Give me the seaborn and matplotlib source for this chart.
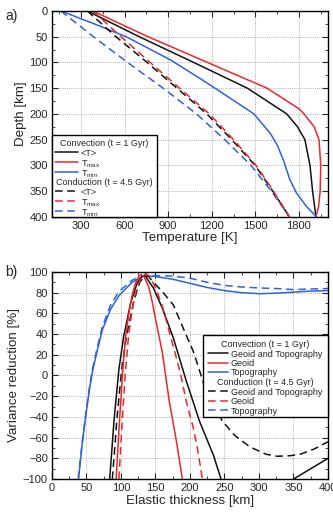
import numpy as np
import pandas as pd
import matplotlib
matplotlib.use("Agg")
import matplotlib.pyplot as plt
from matplotlib.lines import Line2D
from matplotlib.patches import Rectangle
from matplotlib.ticker import MultipleLocator
import seaborn as sns

# ---- panel a: temperature profiles (depth in km, temperature in K)
conv_mean_depth = [0, 50, 100, 150, 200, 225, 250, 300, 350, 400]
conv_mean_temp = [343, 700, 1075, 1445, 1716, 1790, 1841, 1876, 1894, 1917]
conv_max_depth = [0, 50, 100, 150, 190, 200, 225, 250, 300, 350, 380, 400]
conv_max_temp = [380, 760, 1170, 1580, 1800, 1835, 1905, 1938, 1950, 1946, 1935, 1917]
conv_min_depth = [0, 25, 50, 95, 134, 150, 179, 200, 237, 260, 289, 328, 354, 380, 400]
conv_min_temp = [160, 390, 610, 915, 1135, 1222, 1378, 1490, 1601, 1650, 1692, 1738, 1784, 1853, 1922]

cond_depth = [0, 50, 100, 150, 200, 250, 300, 350, 400]
cond_mean_temp = [343, 540, 755, 960, 1166, 1338, 1498, 1620, 1735]
cond_max_temp = [382, 575, 775, 978, 1184, 1350, 1505, 1625, 1735]
cond_min_temp = [160, 385, 620, 865, 1095, 1290, 1470, 1610, 1735]

# ---- panel b: variance reduction (%) vs elastic thickness (km)
gt_conv_x = [83.7, 87, 90, 97, 104, 114, 123.6, 131, 135, 147, 160, 176, 195, 214, 234, 245]
gt_conv_y = [-100, -70, -43, 6, 38, 70, 89.7, 96, 96.3, 84.5, 65, 36, -6, -44.5, -77, -100]
gt_conv_tail_x = [350, 375, 400]
gt_conv_tail_y = [-100, -90, -80]
geo_conv_x = [93, 96, 99.5, 103, 106.7, 111, 116, 121, 126, 129, 133, 140, 145, 150, 160, 170, 180, 189]
geo_conv_y = [-100, -65, -26, 8, 38, 58, 77, 89, 96, 97.5, 96, 86, 72, 55, 22, -25, -62, -100]
top_conv_x = [38.5, 44, 49, 54, 59, 66, 73, 85, 97, 116, 131, 140, 150, 175, 200, 225, 250, 275, 300, 325, 350, 375, 400]
top_conv_y = [-100, -65, -39, -15, 5, 25, 44, 64, 77, 90, 95.5, 96, 95.5, 93, 89, 85, 82, 80, 79, 79.5, 80.5, 81.5, 82]

gt_cond_x = [87.5, 91, 94, 101, 108, 118, 127, 135, 140, 150, 160, 176, 190, 205, 220, 235, 247,
             265, 287, 310, 326, 345, 360, 380, 400]
gt_cond_y = [-100, -70, -43, 6, 38, 70, 90, 96, 95.5, 88, 81, 68, 46, 23, -8, -30, -44,
             -58, -69, -76, -78, -77.5, -76, -71, -64]
geo_cond_x = [97, 100, 103.5, 107, 111, 115, 120, 126, 131, 136, 141, 150, 160, 166, 175, 185.5, 195, 205, 212, 218]
geo_cond_y = [-100, -65, -26, 8, 38, 58, 77, 90, 96, 98.5, 96, 85, 67, 52, 30, 4, -26, -51, -75, -100]
top_cond_x = [38, 44, 49, 54, 59, 66, 73, 85, 97, 116, 131, 145, 150, 175, 200, 225, 250, 275, 300, 325, 350, 375, 400]
top_cond_y = [-100, -64, -37, -13, 7, 28, 47, 68, 81, 92, 96, 96.5, 96.5, 96, 94, 90, 87, 85.5, 84.5, 84, 83, 83.5, 84]

legend_a_labels = ["Convection (t = 1 Gyr)", "<T>", r"T$_{\mathrm{max}}$", r"T$_{\mathrm{min}}$",
                   "Conduction (t = 4.5 Gyr)", "<T>", r"T$_{\mathrm{max}}$", r"T$_{\mathrm{min}}$"]
legend_b_labels = ["Convection (t = 1 Gyr)", "Geoid and Topography", "Geoid", "Topography",
                   "Conduction (t = 4.5 Gyr)", "Geoid and Topography", "Geoid", "Topography"]

RED = "#e8292b"
BLUE = "#2f62d8"
BLACK = "#111111"
DASH = (0, (5, 3))

sns.set_style("ticks")
plt.rcParams["font.family"] = ["Liberation Sans", "DejaVu Sans"]
plt.rcParams["mathtext.fontset"] = "custom"
plt.rcParams["mathtext.rm"] = "Liberation Sans"
plt.rcParams["mathtext.it"] = "Liberation Sans"

fig = plt.figure(figsize=(3.33, 5.19), dpi=100)
ax_a = fig.add_axes([0.156, 0.582, 0.829, 0.397])
ax_b = fig.add_axes([0.156, 0.077, 0.829, 0.399])


def draw(ax, x, y, color, dashed=False):
    sns.lineplot(x=x, y=y, ax=ax, color=color, sort=False, estimator=None,
                 linewidth=1.1, linestyle=DASH if dashed else "-")


draw(ax_a, conv_mean_temp, conv_mean_depth, BLACK)
draw(ax_a, conv_max_temp, conv_max_depth, RED)
draw(ax_a, conv_min_temp, conv_min_depth, BLUE)
draw(ax_a, cond_min_temp, cond_depth, BLUE, True)
draw(ax_a, cond_mean_temp, cond_depth, BLACK, True)
draw(ax_a, cond_max_temp, cond_depth, RED, True)

draw(ax_b, top_conv_x, top_conv_y, BLUE)
draw(ax_b, top_cond_x, top_cond_y, BLUE, True)
draw(ax_b, gt_conv_x, gt_conv_y, BLACK)
draw(ax_b, gt_conv_tail_x, gt_conv_tail_y, BLACK)
draw(ax_b, gt_cond_x, gt_cond_y, BLACK, True)
draw(ax_b, geo_conv_x, geo_conv_y, RED)
draw(ax_b, geo_cond_x, geo_cond_y, RED, True)

# axes styling
ax_a.set_xlim(100, 2000)
ax_a.set_ylim(400, 0)
ax_a.xaxis.set_major_locator(MultipleLocator(300))
ax_a.xaxis.set_minor_locator(MultipleLocator(150))
ax_a.yaxis.set_major_locator(MultipleLocator(50))
ax_a.yaxis.set_minor_locator(MultipleLocator(25))
ax_a.set_xlabel("Temperature [K]", fontsize=9.6, labelpad=1)
ax_a.set_ylabel("Depth [km]", fontsize=9.6, labelpad=2)

ax_b.set_xlim(0, 400)
ax_b.set_ylim(-100, 100)
ax_b.xaxis.set_major_locator(MultipleLocator(50))
ax_b.xaxis.set_minor_locator(MultipleLocator(25))
ax_b.yaxis.set_major_locator(MultipleLocator(20))
ax_b.yaxis.set_minor_locator(MultipleLocator(10))
ax_b.set_xlabel("Elastic thickness [km]", fontsize=9.6, labelpad=1)
ax_b.set_ylabel("Variance reduction [%]", fontsize=9.6, labelpad=2)

for ax in (ax_a, ax_b):
    ax.grid(True, which="major", color="#999999", linestyle=(0, (1, 1.5)), linewidth=0.6)
    ax.tick_params(which="both", direction="in", top=True, right=True, labelsize=8, pad=3)
    ax.tick_params(which="major", length=4, width=0.8)
    ax.tick_params(which="minor", length=2, width=0.6)
    for s in ax.spines.values():
        s.set_linewidth(1.0)
        s.set_color("black")

fig.text(0.015, 0.962, "a)", fontsize=10)
fig.text(0.015, 0.468, "b)", fontsize=10)


# legend boxes drawn by hand so that the group headers span the whole box
def boxed_legend(ax, frame, labels, row_y, hx, tx, fs):
    # frame / row_y / hx / tx are in figure pixels (top-left origin)
    L, B, W, H = frame
    fx = lambda px: (px - L) / W
    fy = lambda py: (B - py) / H
    x0, y0, x1, y1 = row_y["box"]
    ax.add_patch(Rectangle((fx(x0), fy(y1)), fx(x1) - fx(x0), fy(y0) - fy(y1),
                           transform=ax.transAxes, facecolor="white", edgecolor="black",
                           linewidth=1.0, zorder=10, clip_on=False))
    styles = [None, (BLACK, False), (RED, False), (BLUE, False),
              None, (BLACK, True), (RED, True), (BLUE, True)]
    for lab, st, y in zip(labels, styles, row_y["rows"]):
        if st is None:
            ax.text(fx((x0 + x1) / 2), fy(y), lab, transform=ax.transAxes, fontsize=fs,
                    ha="center", va="center_baseline", zorder=11)
        else:
            ax.add_line(Line2D([fx(hx[0]), fx(hx[1])], [fy(y), fy(y)], transform=ax.transAxes,
                               color=st[0], linewidth=1.1, linestyle=DASH if st[1] else "-",
                               zorder=11, clip_on=False))
            ax.text(fx(tx), fy(y), lab, transform=ax.transAxes, fontsize=fs,
                    ha="left", va="center_baseline", zorder=11)


boxed_legend(ax_a, (52, 217, 276, 206), legend_a_labels,
             {"box": (52, 135, 157, 217),
              "rows": [143, 152.5, 162.5, 172.5, 182, 191.5, 201.5, 211.5]},
             (55, 78), 81, 6.5)
boxed_legend(ax_b, (52, 479, 276, 207), legend_b_labels,
             {"box": (203, 335, 328, 417),
              "rows": [343.5, 353.3, 362.7, 372, 381.7, 391.3, 400.7, 410]},
             (208, 228), 231, 6.5)

fig.savefig("out.png", dpi=100)
